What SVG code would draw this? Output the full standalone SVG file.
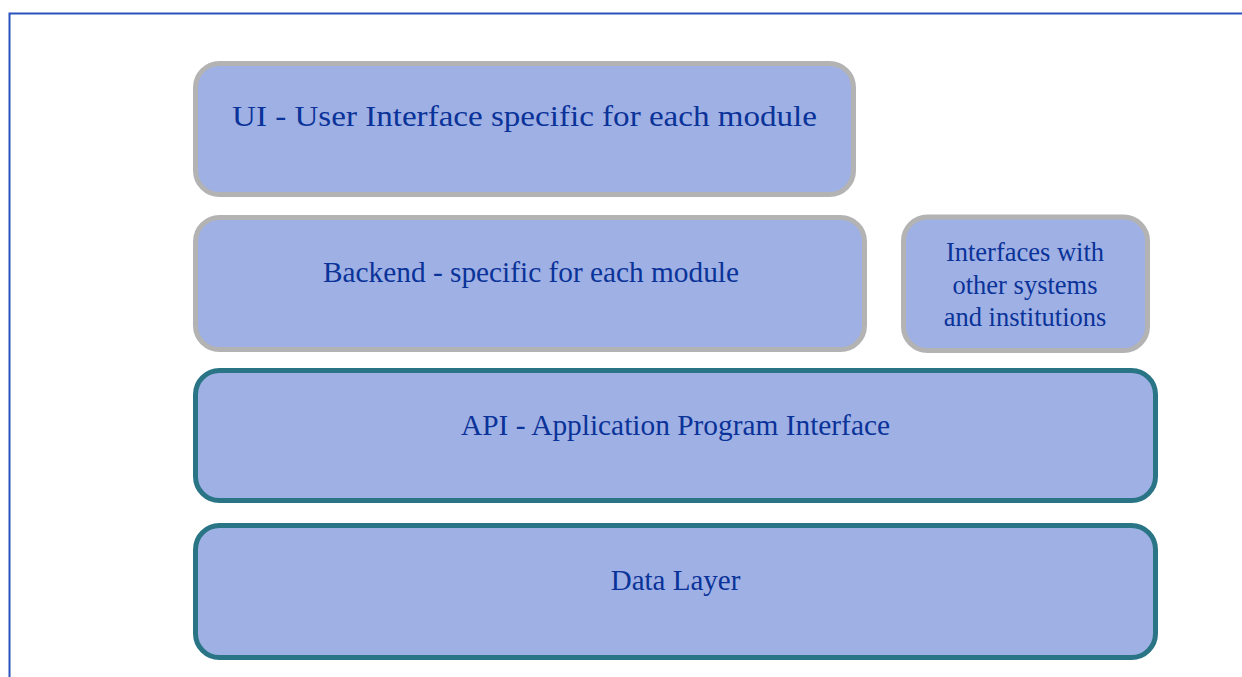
<svg xmlns="http://www.w3.org/2000/svg" width="1242" height="677" viewBox="0 0 1242 677">
<style>
.box{fill:#9fb0e4;stroke-width:5}
.gray{stroke:#b3b3b3}
.teal{stroke:#2a7585}
.t{font-family:"Liberation Serif","Times New Roman",serif;fill:#0a3399;text-anchor:middle}
</style>
<rect x="0" y="0" width="1242" height="677" fill="#ffffff"/>
<path d="M9.5 677 V13.5 H1242" fill="none" stroke="#2a52be" stroke-width="2"/>
<g id="ui">
<rect class="box gray" x="195.5" y="63.5" width="658" height="131" rx="24"/>
<text class="t" x="524.5" y="126" font-size="30" font-family="'DejaVu Serif Condensed','Liberation Serif',serif" textLength="585" lengthAdjust="spacingAndGlyphs">UI - User Interface specific for each module</text>
</g>
<g id="backend">
<rect class="box gray" x="195.5" y="217.5" width="669" height="132" rx="24"/>
<text class="t" x="531" y="282" font-size="29" textLength="416" lengthAdjust="spacingAndGlyphs">Backend - specific for each module</text>
</g>
<g id="interfaces">
<rect class="box gray" x="903.5" y="217" width="244" height="133.5" rx="24"/>
<text class="t" x="1025" y="261" font-size="26.5">Interfaces with</text>
<text class="t" x="1025" y="294" font-size="26.5">other systems</text>
<text class="t" x="1025" y="326" font-size="26.5">and institutions</text>
</g>
<g id="api">
<rect class="box teal" x="195.5" y="370.5" width="960" height="130" rx="24"/>
<text class="t" x="675.5" y="435" font-size="29" textLength="429" lengthAdjust="spacingAndGlyphs">API - Application Program Interface</text>
</g>
<g id="data">
<rect class="box teal" x="195.5" y="525.5" width="960" height="132" rx="24"/>
<text class="t" x="675.5" y="590" font-size="29">Data Layer</text>
</g>
<g id="connectors"></g>
</svg>
